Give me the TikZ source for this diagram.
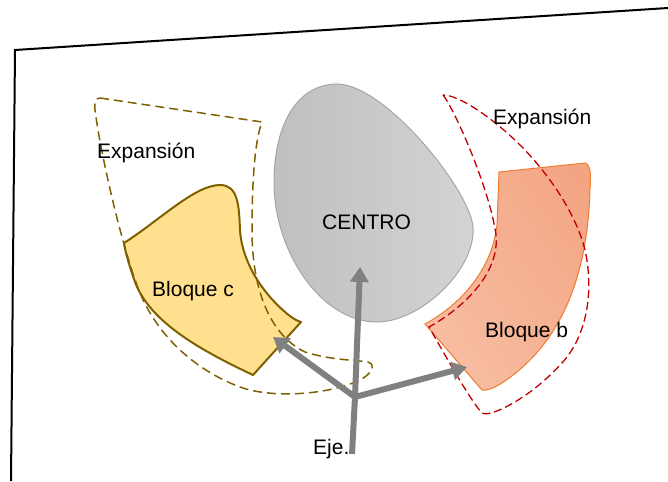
\documentclass[tikz,border=0pt]{standalone}
\usepackage{fontspec}
\setmainfont{Liberation Sans}
\usetikzlibrary{arrows.meta,shadings}
\definecolor{ocre}{RGB}{127,96,0}
\definecolor{amarillo}{RGB}{255,224,142}
\definecolor{rojizo}{RGB}{192,0,0}
\definecolor{naranja}{RGB}{237,125,49}
\definecolor{salmonA}{RGB}{243,163,128}
\definecolor{salmonB}{RGB}{248,194,168}
\definecolor{salmonM}{RGB}{245,178,148}
\definecolor{grisFlecha}{RGB}{128,128,128}
\begin{document}
\begin{tikzpicture}[x=1pt,y=-1pt,
    etiqueta/.style={anchor=base west, inner sep=0pt, font=\fontsize{21}{25}\selectfont},
    flecha/.style={line width=6pt, grisFlecha, -{Triangle[length=15pt,width=18pt]}},
    expansion/.style={dash pattern=on 9pt off 5pt, line width=1.5pt}]
    \useasboundingbox (0,0) rectangle (668,481);
    % Marco (plano inclinado)
    \draw[line width=2pt] (668,8) -- (15,50) -- (11,481);
    % Centro
    \shadedraw[draw=black!35, line width=1pt, left color=black!25, right color=black!17]
        (337,84) .. controls (385,84) and (470,190) .. (473,227)
        .. controls (476,270) and (420,322) .. (377,322)
        .. controls (320,322) and (274,250) .. (274,183)
        .. controls (274,120) and (300,84) .. (337,84) -- cycle;
    % Bloque c
    \filldraw[fill=amarillo, draw=ocre, line width=2pt, line join=round]
        (124,243) .. controls (160,220) and (195,185) .. (220,185)
        .. controls (238,185) and (239,205) .. (240,230)
        .. controls (242,262) and (262,292) .. (285,312)
        .. controls (292,318) and (297,321) .. (301,322) -- (253,375)
        .. controls (200,350) and (150,322) .. (135,282)
        .. controls (128,262) and (125,250) .. (124,243) -- cycle;
    % Bloque b
    \shadedraw[draw=naranja, line width=1pt, upper right=salmonA, lower left=salmonB,
        upper left=salmonM, lower right=salmonM]
        (499,172) -- (585,163) .. controls (591,165) and (591,175) .. (590,190)
        .. controls (588,260) and (570,320) .. (530,360)
        .. controls (510,380) and (490,392) .. (482,390) -- (425,324)
        .. controls (460,305) and (492,270) .. (497,225) -- cycle;
    % Expansiones
    \draw[expansion, ocre]
        (100,98) -- (262,122) .. controls (255,140) and (252,180) .. (252,230)
        .. controls (252,290) and (270,335) .. (305,352)
        .. controls (330,360) and (355,360) .. (368,362)
        .. controls (378,365) and (370,378) .. (350,384)
        .. controls (320,395) and (270,398) .. (240,387)
        .. controls (200,372) and (158,340) .. (138,288)
        .. controls (120,240) and (100,150) .. (95,110)
        .. controls (94,102) and (96,98) .. (100,98) -- cycle;
    \draw[expansion, rojizo, line width=1.3pt, dash pattern=on 8pt off 4pt]
        (443,95) .. controls (455,110) and (490,190) .. (496,235)
        .. controls (500,275) and (460,310) .. (429,327)
        .. controls (445,355) and (470,400) .. (482,413)
        .. controls (490,418) and (530,398) .. (560,365)
        .. controls (585,340) and (595,295) .. (585,250)
        .. controls (575,210) and (545,170) .. (520,145)
        .. controls (495,120) and (460,95) .. (443,95) -- cycle;
    % Ejes
    \coordinate (origen) at (355,397);
    \coordinate (base) at (352,454);
    \coordinate (puntaCentro) at (360,267);
    \coordinate (puntaC) at (273,337);
    \coordinate (puntaB) at (467,367);
    \draw[line width=6pt, grisFlecha] (base) -- (origen);
    \draw[flecha] (origen) -- (puntaCentro);
    \draw[flecha] (origen) -- (puntaC);
    \draw[flecha] (origen) -- (puntaB);
    % Etiquetas
    \node[etiqueta] (expC) at (97,158) {Expansión};
    \node[etiqueta] (expB) at (493,125) {Expansión};
    \node[etiqueta] (centro) at (322,229) {CENTRO};
    \node[etiqueta] (bloqueC) at (152,296) {Bloque c};
    \node[etiqueta] (bloqueB) at (485,337) {Bloque b};
    \node[etiqueta] (eje) at (313,454) {Eje.};
\end{tikzpicture}
\end{document}
